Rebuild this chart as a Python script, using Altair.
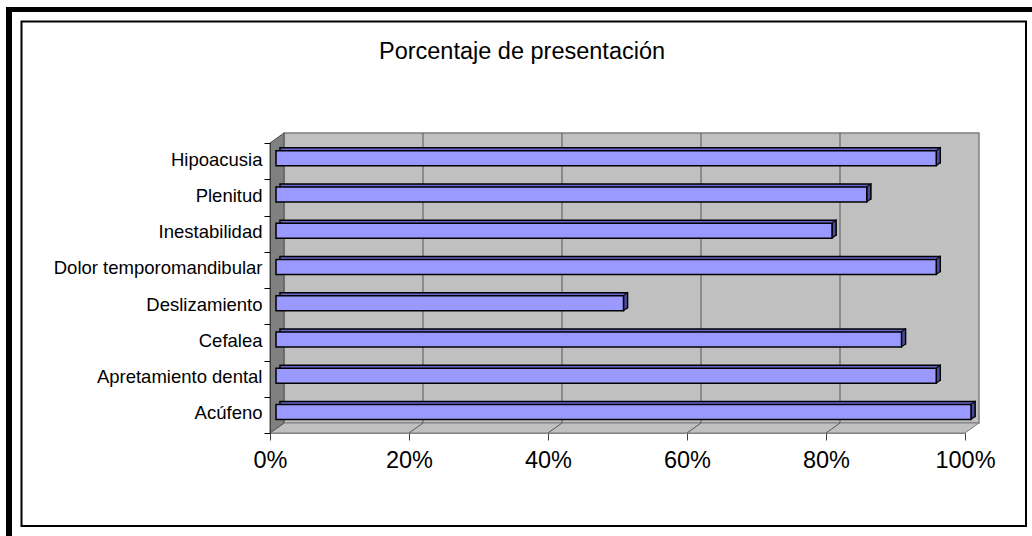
import altair as alt
import pandas as pd

# Symptom frequency, top to bottom as listed on the axis
categories = [
    "Hipoacusia",
    "Plenitud",
    "Inestabilidad",
    "Dolor temporomandibular",
    "Deslizamiento",
    "Cefalea",
    "Apretamiento dental",
    "Acúfeno",
]
shares = [0.95, 0.85, 0.80, 0.95, 0.50, 0.90, 0.95, 1.00]
tick_values = [0, 0.2, 0.4, 0.6, 0.8, 1.0]
title_text = "Porcentaje de presentación"

# Layout (pixels)
W, H = 695, 290            # front plane of the plot box
PAD_L, PAD_T = 270, 143
DX, DY = 14, 10            # depth of the 3-D box (back wall offset)
BX, BY = 6, 3              # bars sit slightly behind the front plane
BDX, BDY = 4, 3            # depth of each bar
BAR_H = 15
FONT = "Liberation Sans"

bars = pd.DataFrame({"cat": categories, "val": shares})
span = pd.DataFrame({"lo": [0.0], "hi": [1.0]})
inner_ticks = pd.DataFrame({"t": tick_values[1:-1]})
one = pd.DataFrame({"k": [0]})

xs = alt.Scale(domain=[0, 1], nice=False, zero=True)
ys = alt.Scale(domain=categories, paddingInner=0, paddingOuter=0)

x_axis = alt.Axis(
    values=tick_values, format="%", title=None, grid=False,
    domain=True, domainColor="#808080", tickColor="#404040", tickSize=7,
    labelFont=FONT, labelFontSize=23.5, labelColor="black",
    labelPadding=8, labelFlush=False, zindex=1,
)
y_axis = alt.Axis(
    title=None, tickBand="extent", tickSize=6, tickColor="black",
    domainColor="#404040", labelFont=FONT, labelFontSize=18.5,
    labelColor="black", labelPadding=2, labelOffset=-2, labelLimit=0,
    zindex=1,
)

X = lambda f: alt.X(f, scale=xs, axis=x_axis)
Y = alt.Y("cat:N", scale=ys, axis=y_axis, sort=categories)

# Page frames
outer_left = alt.Chart(one).mark_rect(fill="black").encode(
    x=alt.value(6 - PAD_L), x2=alt.value(12 - PAD_L),
    y=alt.value(7 - PAD_T), y2=alt.value(536 - PAD_T),
)
outer_top = alt.Chart(one).mark_rect(fill="black").encode(
    x=alt.value(6 - PAD_L), x2=alt.value(1032 - PAD_L),
    y=alt.value(7 - PAD_T), y2=alt.value(12 - PAD_T),
)
inner_frame = alt.Chart(one).mark_rect(
    fill="white", fillOpacity=0, stroke="black", strokeWidth=2
).encode(
    x=alt.value(21.5 - PAD_L), x2=alt.value(1026 - PAD_L),
    y=alt.value(21.5 - PAD_T), y2=alt.value(526 - PAD_T),
)

# 3-D box: back wall, floor, side wall
back_wall = alt.Chart(span).mark_rect(
    fill="#C0C0C0", stroke="#808080", strokeWidth=1.5,
    xOffset=DX, x2Offset=DX, yOffset=-DY, y2Offset=-DY,
).encode(x=X("lo:Q"), x2="hi:Q", y=alt.value(0), y2=alt.value("height"))

gridlines = alt.Chart(inner_ticks).mark_rule(
    color="#555555", strokeWidth=1, xOffset=DX, yOffset=-DY, y2Offset=-DY
).encode(x=X("t:Q"), y=alt.value(0), y2=alt.value("height"))

floor_path = f"M0,0 L{W},0 L{W + DX},{-DY} L{DX},{-DY} Z"
floor = alt.Chart(span).mark_point(
    shape=floor_path, size=4, filled=True, fill="#C0C0C0",
    stroke="#808080", strokeWidth=1, opacity=1,
).encode(x=X("lo:Q"), y=alt.value("height"))

floor_grid = alt.Chart(inner_ticks).mark_point(
    shape=f"M0,0 L{DX},{-DY}", size=4, filled=False,
    stroke="#555555", strokeWidth=1, opacity=1,
).encode(x=X("t:Q"), y=alt.value("height"))

side_path = f"M0,0 L{DX},{-DY} L{DX},{H - DY} L0,{H} Z"
side_wall = alt.Chart(span).mark_point(
    shape=side_path, size=4, filled=True, fill="#808080",
    stroke="#505050", strokeWidth=1, opacity=1,
).encode(x=X("lo:Q"), y=alt.value(0))

# Bars: back face (shows as top strip), end cap, front face
bar_back = alt.Chart(bars).mark_bar(
    size=BAR_H, fill="#6666CC", stroke="black", strokeWidth=1.5,
    xOffset=BX + BDX, x2Offset=BX + BDX,
    yOffset=-(BY + BDY), y2Offset=-(BY + BDY),
).encode(x=X("val:Q"), y=Y)

cap_path = (
    f"M0,{-BAR_H / 2} L{BDX},{-BAR_H / 2 - BDY} "
    f"L{BDX},{BAR_H / 2 - BDY} L0,{BAR_H / 2} Z"
)
bar_cap = alt.Chart(bars).mark_point(
    shape=cap_path, size=4, filled=True, fill="#4B4B99",
    stroke="black", strokeWidth=1.2, opacity=1,
    xOffset=BX, yOffset=-BY,
).encode(x=X("val:Q"), y=Y)

bar_front = alt.Chart(bars).mark_bar(
    size=BAR_H, fill="#9999FF", stroke="black", strokeWidth=1.5,
    xOffset=BX, x2Offset=BX, yOffset=-BY, y2Offset=-BY,
).encode(x=X("val:Q"), y=Y)

title = alt.Chart(pd.DataFrame({"t": [title_text]})).mark_text(
    font=FONT, fontSize=23.5, color="black", align="center",
    baseline="alphabetic",
).encode(text="t:N", x=alt.value(522 - PAD_L), y=alt.value(59 - PAD_T))

chart = alt.layer(
    outer_left, outer_top, inner_frame,
    back_wall, gridlines, floor, floor_grid, side_wall,
    bar_back, bar_cap, bar_front, title,
).properties(
    width=W, height=H,
    padding={"left": PAD_L, "top": PAD_T,
             "right": 1032 - PAD_L - W, "bottom": 536 - PAD_T - H},
    autosize=alt.AutoSizeParams(type="none"),
    background="white",
).configure_view(stroke=None)

chart.save("out.html", embed_options={"renderer": "svg", "actions": False})
